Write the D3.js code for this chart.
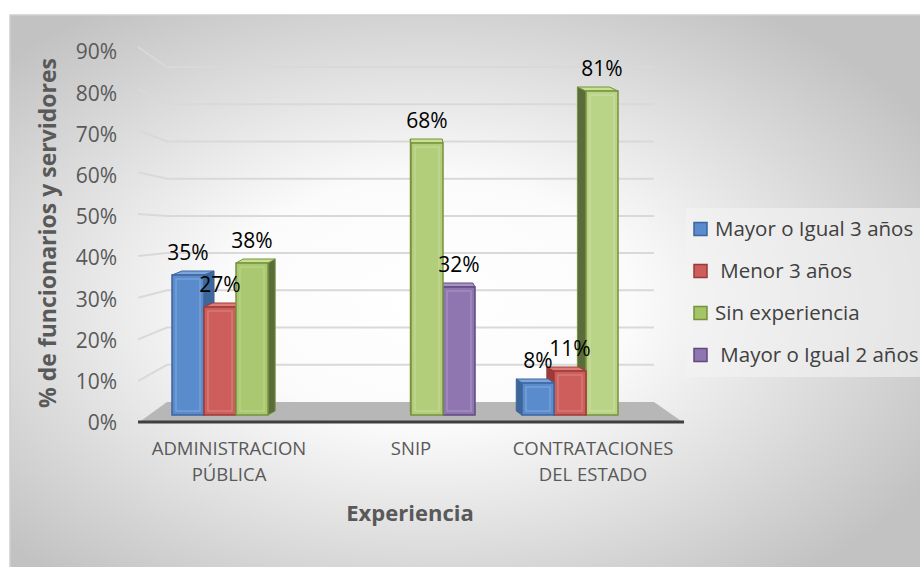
<!DOCTYPE html>
<html>
<head>
<meta charset="utf-8">
<script src="https://cdn.jsdelivr.net/npm/d3@7"></script>
<style>
  body { margin: 0; background: #fff; }
  text { font-family: "Open Sans", "Noto Sans", sans-serif; }
</style>
</head>
<body>
<div id="chart"></div>
<script>
// chart data
const categoryLines = [["ADMINISTRACION", "PÚBLICA"], ["SNIP"], ["CONTRATACIONES", "DEL ESTADO"]];
const categories = categoryLines.map(l => l.join(" "));
const seriesNames = ["Mayor o Igual 3 años", "Menor 3 años", "Sin experiencia", "Mayor o Igual 2 años"];
const legendLabels = ["Mayor o Igual 3 años", " Menor 3 años", "Sin experiencia", " Mayor o Igual 2 años"];
const mayor3 = [0.35, null, 0.08];
const menor3 = [0.27, null, 0.11];
const sinExp = [0.38, 0.68, 0.81];
const mayor2 = [null, 0.32, null];
const yTicks = [0, 0.1, 0.2, 0.3, 0.4, 0.5, 0.6, 0.7, 0.8, 0.9];

const seriesValues = [mayor3, menor3, sinExp, mayor2];
const palette = [
  { front: '#5a8bcc', stroke: '#3b659e', side: '#3f6699', top: '#7ea6dc' },
  { front: '#cd5e5b', stroke: '#9d3a38', side: '#9a3b39', top: '#de7e7b' },
  { front: '#a4c468', stroke: '#76923d', side: '#5b6c3c', top: '#c8e293' },
  { front: '#8f76b1', stroke: '#5f4981', side: '#5e4a7c', top: '#a994c6' }
];

const W = 920, H = 567;
const svg = d3.select('#chart').append('svg')
  .attr('width', W).attr('height', H);

const defs = svg.append('defs');
const bg = defs.append('radialGradient')
  .attr('id', 'bgGrad')
  .attr('cx', '46%').attr('cy', '52%').attr('r', '64%');
bg.append('stop').attr('offset', '0%').attr('stop-color', '#ffffff');
bg.append('stop').attr('offset', '35%').attr('stop-color', '#fbfbfb');
bg.append('stop').attr('offset', '100%').attr('stop-color', '#c2c2c2');

// panel
svg.append('rect')
  .attr('x', 10).attr('y', 15)
  .attr('width', W - 10).attr('height', H - 15)
  .attr('fill', 'url(#bgGrad)');
svg.append('path')
  .attr('d', `M10,${H} L10,15 L${W},15`)
  .attr('fill', 'none').attr('stroke', '#cfcfcf').attr('stroke-width', 1.5);

// three depth planes: front edge, bar plane, back wall
const yFront = d3.scaleLinear().domain([0, 0.9]).range([423, 47]);
const yLabel = d3.scaleLinear().domain([0, 0.9]).range([423, 52]);
const yBar = d3.scaleLinear().domain([0, 0.9]).range([415, 55]);
const yBack = d3.scaleLinear().domain([0, 0.9]).range([402, 67]);
const frontX = [138, 684], backX = [167, 654], barX = [148.5, 673.5];
const vanishX = 411;

// gridlines (side wall + back wall)
svg.append('g').selectAll('path')
  .data(yTicks.slice(1))
  .enter().append('path')
  .attr('d', d => `M${frontX[0]},${yFront(d)} L${backX[0]},${yBack(d)} L${backX[1]},${yBack(d)}`)
  .attr('fill', 'none')
  .attr('stroke', '#d9d9d9')
  .attr('stroke-width', 2);

// floor
svg.append('path')
  .attr('d', `M${backX[0]},${yBack(0)} L${backX[1]},${yBack(0)} L${frontX[1]},${yFront(0)} L${frontX[0]},${yFront(0)} Z`)
  .attr('fill', '#b7b7b7');
svg.append('line')
  .attr('x1', frontX[0]).attr('x2', frontX[1])
  .attr('y1', yFront(0) - 1).attr('y2', yFront(0) - 1)
  .attr('stroke', '#3f3f3f').attr('stroke-width', 3);

// y tick labels
svg.append('g').selectAll('text')
  .data(yTicks)
  .enter().append('text')
  .attr('x', 117)
  .attr('y', d => yLabel(d))
  .attr('dy', '0.35em')
  .attr('text-anchor', 'end')
  .attr('font-size', '21px')
  .attr('fill', '#595959')
  .text(d => d3.format('.0%')(d));

// scales for bars
const x0 = d3.scaleBand().domain(categories).range(barX);
const x1 = d3.scaleBand().domain(seriesNames)
  .range([0, x0.bandwidth()])
  .paddingInner(0).paddingOuter(0.734);
const xCat = d3.scaleBand().domain(categories).range(frontX);

const bars = [];
seriesValues.forEach((vals, s) => {
  vals.forEach((v, c) => {
    if (v == null) return;
    const x = x0(categories[c]) + x1(seriesNames[s]);
    const w = x1.bandwidth();
    bars.push({ s, c, v, x, w, cx: x + w / 2 });
  });
});
// painter's order: farthest from centre first
bars.sort((a, b) => Math.abs(b.cx - vanishX) - Math.abs(a.cx - vanishX));

// lighting gets brighter to the right
const light = d3.scaleLinear().domain(barX).range([0, 0.32]);

const barG = svg.append('g');
bars.forEach(b => {
  const col = palette[b.s];
  const yt = yBar(b.v), yb = yBar(0);
  const dx = (vanishX - b.cx) * 0.045, dy = -4;
  const front = b.s === 2 ? d3.interpolateRgb(col.front, '#f4ffd8')(light(b.cx)) : col.front;
  const g = barG.append('g');
  const sx = dx > 0 ? b.x + b.w : b.x;
  g.append('path')
    .attr('d', `M${sx},${yt} L${sx + dx},${yt + dy} L${sx + dx},${yb + dy} L${sx},${yb} Z`)
    .attr('fill', col.side).attr('stroke', col.stroke).attr('stroke-width', 1);
  g.append('path')
    .attr('d', `M${b.x},${yt} L${b.x + b.w},${yt} L${b.x + b.w + dx},${yt + dy} L${b.x + dx},${yt + dy} Z`)
    .attr('fill', col.top).attr('stroke', col.stroke).attr('stroke-width', 1);
  g.append('rect')
    .attr('x', b.x).attr('y', yt)
    .attr('width', b.w).attr('height', yb - yt)
    .attr('fill', front).attr('stroke', col.stroke).attr('stroke-width', 1.5);
  g.append('rect')
    .attr('x', b.x + 4).attr('y', yt + 4)
    .attr('width', b.w - 8).attr('height', Math.max(0, yb - yt - 8))
    .attr('fill', 'none').attr('stroke', '#ffffff').attr('stroke-opacity', 0.18)
    .attr('stroke-width', 1.5);
});

// data labels
svg.append('g').selectAll('text')
  .data(bars)
  .enter().append('text')
  .attr('x', d => d.cx)
  .attr('y', d => yBar(d.v) - 22)
  .attr('dy', '0.35em')
  .attr('text-anchor', 'middle')
  .attr('font-size', '21px')
  .attr('fill', '#000')
  .text(d => d3.format('.0%')(d.v));

// category labels
const catG = svg.append('g').selectAll('text')
  .data(categoryLines)
  .enter().append('text')
  .attr('text-anchor', 'middle')
  .attr('font-size', '18.5px')
  .attr('fill', '#595959');
catG.each(function (lines, i) {
  const cx = xCat(categories[i]) + xCat.bandwidth() / 2;
  d3.select(this).selectAll('tspan')
    .data(lines)
    .enter().append('tspan')
    .attr('x', cx)
    .attr('y', (d, j) => 449 + j * 26)
    .attr('dy', '0.35em')
    .text(d => d);
});

// axis titles
svg.append('text')
  .attr('transform', 'translate(48,233) rotate(-90)')
  .attr('text-anchor', 'middle')
  .attr('dy', '0.35em')
  .attr('font-size', '23px')
  .attr('font-weight', 700)
  .attr('fill', '#595959')
  .text('% de funcionarios y servidores');

svg.append('text')
  .attr('x', 410).attr('y', 513)
  .attr('dy', '0.35em')
  .attr('text-anchor', 'middle')
  .attr('font-size', '22px')
  .attr('font-weight', 700)
  .attr('fill', '#595959')
  .text('Experiencia');

// legend
const legend = svg.append('g').attr('transform', 'translate(686,208)');
legend.append('rect')
  .attr('width', 240).attr('height', 169)
  .attr('fill', '#f4f4f4').attr('fill-opacity', 0.6);
const li = legend.selectAll('g.item')
  .data(legendLabels)
  .enter().append('g')
  .attr('class', 'item')
  .attr('transform', (d, i) => `translate(0,${21 + i * 42})`);
li.append('rect')
  .attr('x', 8).attr('y', -6.5)
  .attr('width', 13).attr('height', 13)
  .attr('fill', (d, i) => palette[i].front)
  .attr('stroke', (d, i) => palette[i].stroke)
  .attr('stroke-width', 1.5);
li.append('text')
  .attr('x', 29).attr('dy', '0.35em')
  .attr('font-size', '20.5px')
  .attr('fill', '#404040')
  .style('white-space', 'pre')
  .text(d => d);
</script>
</body>
</html>
